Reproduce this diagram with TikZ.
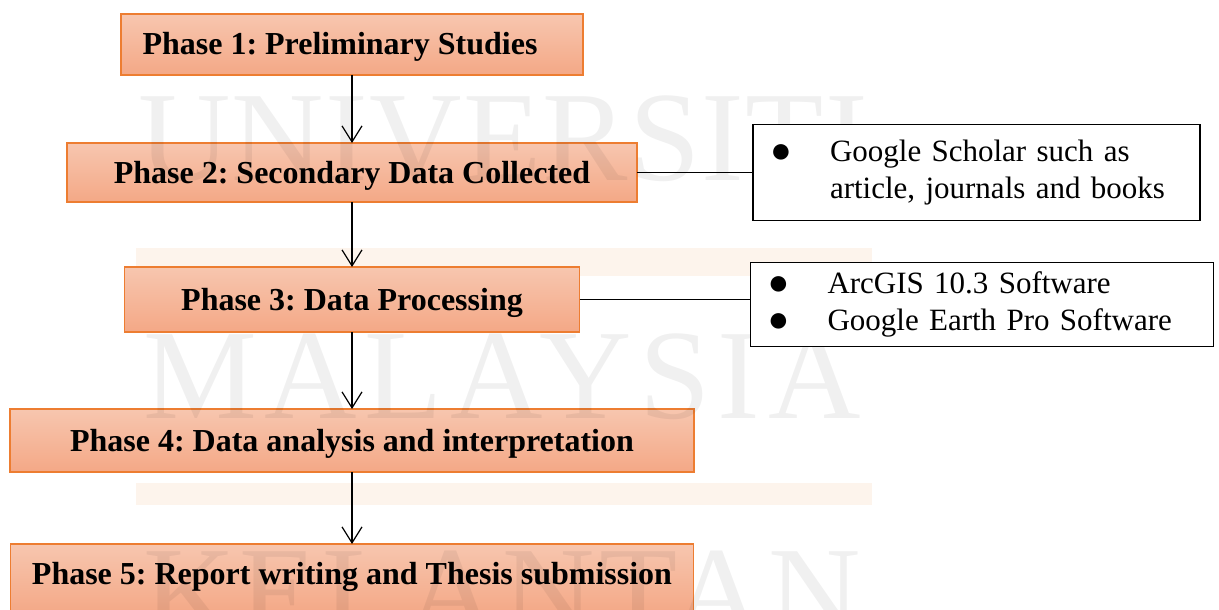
\documentclass[tikz,border=0pt]{standalone}
\usepackage{fontspec}
\setmainfont{Liberation Serif}
\usepackage{tikz}
\usetikzlibrary{positioning, arrows.meta}
\definecolor{phaseline}{RGB}{237,125,49}
\definecolor{phasetop}{RGB}{247,198,175}
\definecolor{phasebottom}{RGB}{244,168,134}
\definecolor{markbar}{RGB}{253,244,236}
\newcommand{\bul}{\makebox[55pt][l]{\hspace{-5pt}\raisebox{-1pt}{\fontsize{36}{36}\selectfont ●}}}

\begin{document}
\frenchspacing
\begin{tikzpicture}[x = 1pt, y = -1pt, node distance = 68pt, >={Straight Barb[length=16pt, width=20pt]},
  phase/.style={rectangle, draw = phaseline, line width = 1.5pt, top color = phasetop, bottom color = phasebottom, inner sep = 0pt, outer sep = 0pt, minimum height = 62pt, text height = 23pt, text depth = 2pt, font = \fontsize{32}{37}\selectfont\bfseries},
  sidebox/.style={rectangle, draw, line width = 1.3pt, fill = white, inner xsep = 22pt, inner ysep = 0pt, outer sep = 0pt, align = left, font = \fontsize{31}{37}\selectfont},
  wmark/.style={anchor = base west, text = black, text opacity = 0.06, inner sep = 0pt, font = \fontsize{128}{128}\selectfont}]
  \useasboundingbox (0,0) rectangle (1219,610);

  % watermark bars
  \fill [markbar] (136,248) rectangle (872,276);
  \fill [markbar] (136,483) rectangle (872,505);

  % nodes
  \node [phase, minimum width = 462pt, minimum height = 61pt] at (352,44.5) (phase1) {Phase 1: Preliminary Studies\hspace*{24pt}};
  \node [phase, minimum width = 570pt, minimum height = 59pt][below = 68pt of phase1] (phase2) {Phase 2: Secondary Data Collected};
  \node [phase, minimum width = 455pt, minimum height = 65pt][below = 65pt of phase2] (phase3) {Phase 3: Data Processing};
  \node [phase, minimum width = 684pt, minimum height = 63pt][below = 77pt of phase3] (phase4) {Phase 4: Data analysis and interpretation};
  \node [phase, minimum width = 683pt, minimum height = 70pt, text depth = 13pt][below = 72pt of phase4] (phase5) {Phase 5: Report writing and Thesis submission};

  % watermark
  \node [wmark] at (138,180) (univ) {\addfontfeature{LetterSpace=1}UNIVERSITI};
  \node [wmark] at (143,418) (malay) {\addfontfeature{LetterSpace=6}MALAYSIA};
  \node [wmark] at (143,635) (kelan) {\addfontfeature{LetterSpace=3.5}KELANTAN};

  \node [sidebox, text width = 403pt, minimum height = 96pt][right = 116pt of phase2] (scholar) {\begin{tabular}{@{}l@{}l@{}} \bul & Google Scholar such as\\ \hspace{55pt} & article, journals and books \end{tabular}};
  \node [sidebox, text width = 419pt, minimum height = 84pt][right = 171pt of phase3, yshift = -5pt] (tools) {\raisebox{5pt}{\begin{tabular}{@{}l@{}l@{}} \bul & ArcGIS 10.3 Software\\ \bul & Google Earth Pro Software \end{tabular}}};

  % edges
  \draw [line width = 1.2pt] [->] (phase1) -- (phase2);
  \draw [line width = 1.2pt] [->] (phase2) -- (phase3);
  \draw [line width = 1.2pt] [->] (phase3) -- (phase4);
  \draw [line width = 1.2pt] [->] (phase4) -- (phase5);

  \draw [line width = 1.2pt] (phase2) -- (scholar);
  \draw [line width = 1.2pt] (phase3.east) -- (phase3.east -| tools.west);
\end{tikzpicture}
\end{document}
